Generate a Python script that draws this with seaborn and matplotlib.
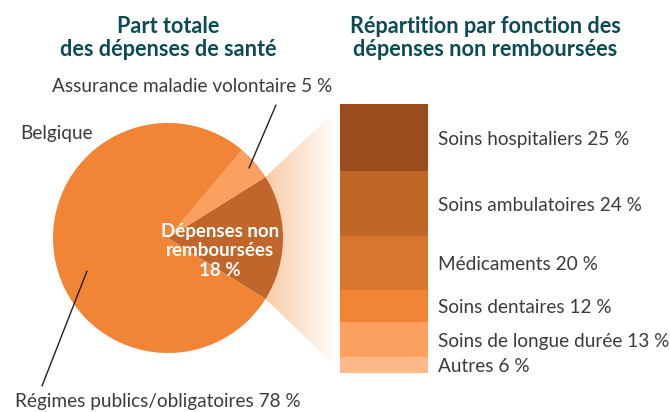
import matplotlib
matplotlib.use("Agg")
import matplotlib.pyplot as plt
import numpy as np
import seaborn as sns
from matplotlib.patches import Polygon

# ---- data ----
pie_labels = ["Dépenses non remboursées", "Assurance maladie volontaire", "Régimes publics/obligatoires"]
pie_values = [18, 5, 78]
pie_colors = ["#C0662A", "#FBA05F", "#F28535"]

bar_labels = ["Soins hospitaliers", "Soins ambulatoires", "Médicaments",
              "Soins dentaires", "Soins de longue durée", "Autres"]
bar_values = [25, 24, 20, 12, 13, 6]
bar_colors = ["#994C1C", "#C06626", "#D8752F", "#F28535", "#FCA160", "#FDB98A"]

title_left = "Part totale\ndes dépenses de santé"
title_right = "Répartition par fonction des\ndépenses non remboursées"
country = "Belgique"

sns.set_style("white")
plt.rcParams["font.family"] = ["Lato", "DejaVu Sans"]

W, H = 670, 412
fig = plt.figure(figsize=(W / 100, H / 100), dpi=100)

def fx(x):
    return x / W

def fy(y):
    return 1 - y / H

TITLE_C = "#0C4B54"
TXT_C = "#3C3C3C"
LBL_FS = 13.7

# background overlay axes in pixel coordinates (top-left origin)
bg = fig.add_axes([0, 0, 1, 1], zorder=0)
bg.set_xlim(0, W)
bg.set_ylim(H, 0)
bg.axis("off")

# ---- pie ----
cx, cy, r = 168, 238, 115
ax_pie = fig.add_axes([fx(cx - r), fy(cy + r), 2 * r / W, 2 * r / H], zorder=2)
start = -pie_values[0] / sum(pie_values) * 360 / 2
wedges, _ = ax_pie.pie(pie_values, colors=pie_colors, startangle=start,
                       counterclock=True, radius=1,
                       wedgeprops=dict(linewidth=0))
ax_pie.set_xlim(-1, 1)
ax_pie.set_ylim(-1, 1)
ax_pie.set_aspect("equal")
ax_pie.axis("off")

# ---- stacked bar (seaborn) ----
bx0, bx1, by0, by1 = 340, 428, 104, 373
ax_bar = fig.add_axes([fx(bx0), fy(by1), (bx1 - bx0) / W, (by1 - by0) / H], zorder=2)
cum = np.cumsum(bar_values[::-1])[::-1]  # top-of-segment heights, from top segment
for val, col in zip(cum, bar_colors):
    sns.barplot(x=[0], y=[val], color=col, width=1, saturation=1,
                linewidth=0, ax=ax_bar)
ax_bar.set_xlim(-0.5, 0.5)
ax_bar.set_ylim(0, sum(bar_values))
ax_bar.axis("off")

# bar labels at segment centres
tops = cum
bottoms = np.append(cum[1:], 0)
for lab, v, t, b in zip(bar_labels, bar_values, tops, bottoms):
    ax_bar.annotate(f"{lab} {v} %", xy=(0.5, (t + b) / 2), xytext=(10, -2),
                    textcoords="offset pixels", ha="left", va="center",
                    fontsize=LBL_FS, color=TXT_C)

# ---- gradient connector ----
w = wedges[0]
to_bg = bg.transData.inverted()
p_up = to_bg.transform(ax_pie.transData.transform(
    (np.cos(np.radians(w.theta2)), np.sin(np.radians(w.theta2)))))
p_dn = to_bg.transform(ax_pie.transData.transform(
    (np.cos(np.radians(w.theta1)), np.sin(np.radians(w.theta1)))))
p_ctr = to_bg.transform(ax_pie.transData.transform((0, 0)))
b_top = to_bg.transform(ax_bar.transData.transform((-0.5, sum(bar_values) * 0.98)))
b_bot = to_bg.transform(ax_bar.transData.transform((-0.5, sum(bar_values) * 0.02)))
b_top[0] -= 3
b_bot[0] -= 3
poly = Polygon([p_ctr, p_up, b_top, b_bot, p_dn], closed=True,
               facecolor="none", edgecolor="none", transform=bg.transData)
bg.add_patch(poly)
x_start, x_end = p_up[0], b_top[0]
grad = np.linspace(0, 1, 256)[None, :]
c0 = np.array(matplotlib.colors.to_rgb("#F8CBA5"))
c1 = np.array([1.0, 1.0, 1.0])
img = (c0[None, None, :] * (1 - grad[..., None]) + c1[None, None, :] * grad[..., None])
im = bg.imshow(img, extent=[x_start, x_end, b_bot[1], b_top[1]],
               aspect="auto", interpolation="bilinear", zorder=1)
im.set_clip_path(poly)
bg.set_xlim(0, W)
bg.set_ylim(H, 0)

# ---- titles ----
fig.text(fx(168), fy(38), title_left, ha="center", va="center",
         fontsize=15.6, fontweight="bold", color=TITLE_C, linespacing=1.1)
fig.text(fx(485), fy(38), title_right, ha="center", va="center",
         fontsize=15.6, fontweight="bold", color=TITLE_C, linespacing=1.1)

# ---- top overlay for pie labels, leader lines, inner label ----
top = fig.add_axes([0, 0, 1, 1], zorder=3)
top.set_xlim(0, W)
top.set_ylim(H, 0)
top.axis("off")
top.patch.set_alpha(0)

top.text(20, 133, country, ha="left", va="center", fontsize=LBL_FS, color=TXT_C)
top.text(52, 86, f"{pie_labels[1]} {pie_values[1]} %", ha="left",
         va="center", fontsize=LBL_FS, color=TXT_C)
top.text(15, 401, f"{pie_labels[2]} {pie_values[2]} %", ha="left",
         va="center", fontsize=LBL_FS, color=TXT_C)

top.plot([276, 249], [105, 168], color="#222222", lw=1.0)
top.plot([87, 42], [271, 386], color="#222222", lw=1.0)

top.text(220, 251, "Dépenses non\nremboursées\n18 %", ha="center", va="center",
         fontsize=13.5, fontweight="bold", color="white", linespacing=1.15)

fig.savefig("out.png", dpi=100)
